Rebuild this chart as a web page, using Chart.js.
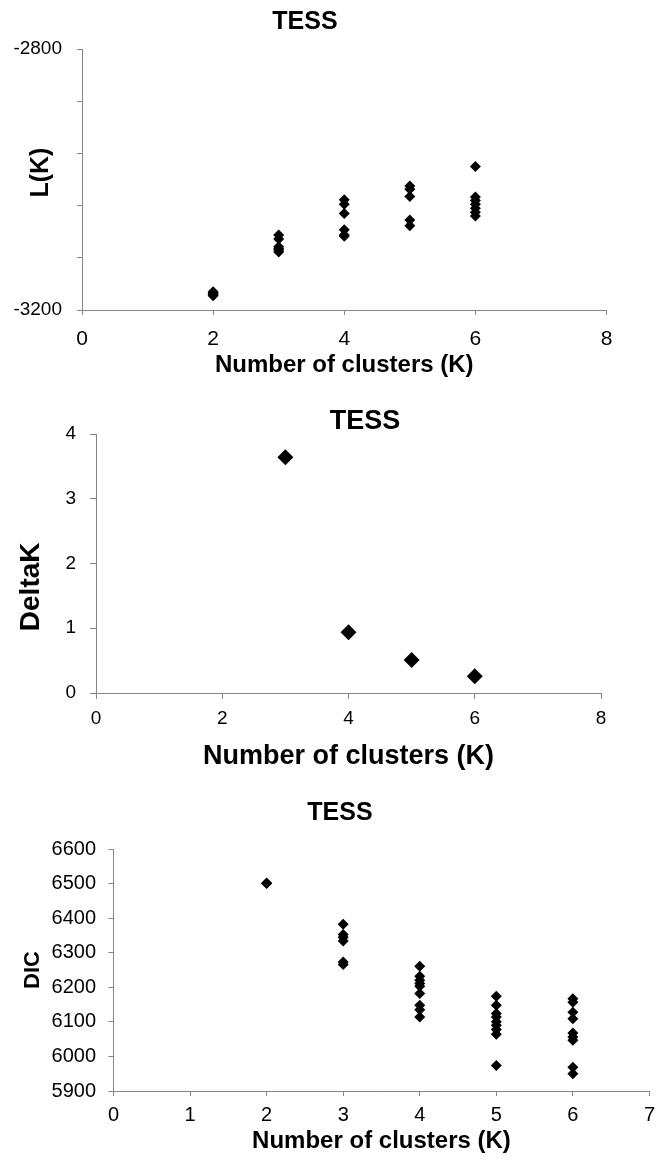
<!DOCTYPE html>
<html>
<head>
<meta charset="utf-8">
<title>TESS</title>
<script src="https://cdn.jsdelivr.net/npm/chart.js@4.4.1/dist/chart.umd.min.js"></script>
<style>
  html, body { margin: 0; padding: 0; background: #fff; }
  body { position: relative; width: 662px; height: 1163px; overflow: hidden; }
  canvas { position: absolute; left: 0; }
</style>
</head>
<body>
<canvas id="lkChart" width="662" height="380" style="top:0px"></canvas>
<canvas id="deltaChart" width="662" height="378" style="top:395px"></canvas>
<canvas id="dicChart" width="662" height="376" style="top:780px"></canvas>
<script>
// ── data ────────────────────────────────────

// K values tested (one group of runs per K)
const kValues = [2, 3, 4, 5, 6];

// L(K) of every run, grouped by K
const lkRuns = [
  [-3172, -3174, -3175, -3177, -3178],
  [-3085, -3091, -3103, -3106, -3108, -3111],
  [-3031, -3038, -3052, -3077, -3085, -3087],
  [-3010, -3015, -3026, -3062, -3071],
  [-2980, -3027, -3032, -3038, -3044, -3050, -3056],
];
// only the ends of the L(K) axis get a label
const lkTickLabels = [-2800, -3200];

// DeltaK per K
const deltaKs = [3, 4, 5, 6];
const deltaKValues = [3.64, 0.94, 0.51, 0.26];

// DIC of every run, grouped by K
const dicRuns = [
  [6500, 6502],
  [6382, 6353, 6345, 6334, 6273, 6266],
  [6261, 6232, 6220, 6211, 6203, 6182, 6148, 6135, 6114],
  [6174, 6148, 6124, 6114, 6100, 6090, 6078, 6064, 5974],
  [6167, 6157, 6128, 6109, 6068, 6056, 6047, 5969, 5950],
];

// ── styling ─────────────────────────────────
const fontFamily = "'Liberation Sans', Arial, sans-serif";
const axisGray = "#868686";

Chart.defaults.font.family = fontFamily;
Chart.defaults.color = "#000";

// Draws the "TESS" heading at a fixed spot above each plot
const headingPlugin = {
  id: "heading",
  afterDraw: function (chart, args, opts) {
    if (!opts.text) return;
    let ctx = chart.ctx;
    ctx.save();
    ctx.font = "bold " + opts.size + "px " + fontFamily;
    ctx.fillStyle = "#000";
    ctx.textAlign = "center";
    ctx.textBaseline = "middle";
    ctx.fillText(opts.text, opts.x, opts.y);
    ctx.restore();
  },
};

// flatten grouped runs into scatter points
function runsToPoints(ks, runs) {
  let pts = [];
  ks.forEach(function (k, i) {
    runs[i].forEach(function (v) {
      pts.push({ x: k, y: v });
    });
  });
  return pts;
}

function makeAxis(a) {
  return {
    type: "linear",
    position: a.position,
    min: a.min,
    max: a.max,
    afterFit: function (scale) {
      if (a.position === "left") scale.width = a.size;
      else scale.height = a.size;
    },
    border: { color: axisGray, width: 1 },
    grid: {
      drawOnChartArea: false,
      drawTicks: true,
      tickLength: a.tickLength,
      color: axisGray,
      lineWidth: 1,
    },
    ticks: {
      stepSize: a.step,
      padding: a.pad,
      color: "#000",
      font: { size: a.fontSize },
      callback: a.callback || function (v) { return String(v); },
    },
    title: {
      display: true,
      text: a.title,
      color: "#000",
      font: { size: a.titleSize, weight: "bold" },
      padding: { top: a.titlePad, bottom: 0 },
    },
  };
}

function drawScatter(canvasId, s) {
  let ctx = document.getElementById(canvasId).getContext("2d");
  return new Chart(ctx, {
    type: "scatter",
    data: {
      datasets: [
        {
          data: s.points,
          pointStyle: "rectRot",
          pointRadius: s.radius,
          pointBackgroundColor: "#000",
          pointBorderWidth: 0,
        },
      ],
    },
    options: {
      responsive: false,
      devicePixelRatio: 1,
      animation: false,
      layout: { padding: s.padding },
      plugins: {
        legend: { display: false },
        tooltip: { enabled: false },
        heading: s.heading,
      },
      scales: { x: makeAxis(s.x), y: makeAxis(s.y) },
    },
    plugins: [headingPlugin],
  });
}

// ── L(K) ────────────────────────────────────
drawScatter("lkChart", {
  points: runsToPoints(kValues, lkRuns),
  radius: 5.5,
  padding: { left: 0, right: 55.5, top: 49, bottom: 0 },
  heading: { text: "TESS", x: 305, y: 22.5, size: 25 },
  x: {
    position: "bottom", min: 0, max: 8, step: 2, size: 70,
    tickLength: 5, pad: 12, fontSize: 21,
    title: "Number of clusters (K)", titleSize: 24, titlePad: 0,
  },
  y: {
    position: "left", min: -3200, max: -2800, step: 80, size: 82,
    tickLength: 5, pad: 15, fontSize: 19,
    // leading spaces lift the label a little above the axis middle
    title: "  L(K)", titleSize: 25, titlePad: 26,
    callback: function (v) {
      return lkTickLabels.includes(v) ? String(v) : "";
    },
  },
});

// ── DeltaK ──────────────────────────────────
drawScatter("deltaChart", {
  points: deltaKs.map(function (k, i) { return { x: k, y: deltaKValues[i] }; }),
  radius: 8,
  padding: { left: 0, right: 61, top: 39, bottom: 0 },
  heading: { text: "TESS", x: 365, y: 27, size: 27 },
  x: {
    position: "bottom", min: 0, max: 8, step: 2, size: 80,
    tickLength: 6, pad: 8, fontSize: 19,
    title: "Number of clusters (K)", titleSize: 27, titlePad: 0,
  },
  y: {
    position: "left", min: 0, max: 4, step: 1, size: 96,
    tickLength: 6, pad: 14, fontSize: 19,
    // trailing spaces push the label down toward the lower half
    title: "DeltaK      ", titleSize: 28, titlePad: 14,
  },
});

// ── DIC ─────────────────────────────────────
drawScatter("dicChart", {
  points: runsToPoints(kValues, dicRuns),
  radius: 5.5,
  padding: { left: 0, right: 6, top: 69, bottom: 0 },
  heading: { text: "TESS", x: 340, y: 32.7, size: 25 },
  x: {
    position: "bottom", min: 0, max: 7, step: 1, size: 65,
    tickLength: 5, pad: 7, fontSize: 20,
    title: "Number of clusters (K)", titleSize: 24, titlePad: 0,
  },
  y: {
    position: "left", min: 5900, max: 6600, step: 100, size: 113.5,
    tickLength: 5, pad: 12.5, fontSize: 20,
    title: "DIC", titleSize: 22, titlePad: 20,
  },
});
</script>
</body>
</html>
